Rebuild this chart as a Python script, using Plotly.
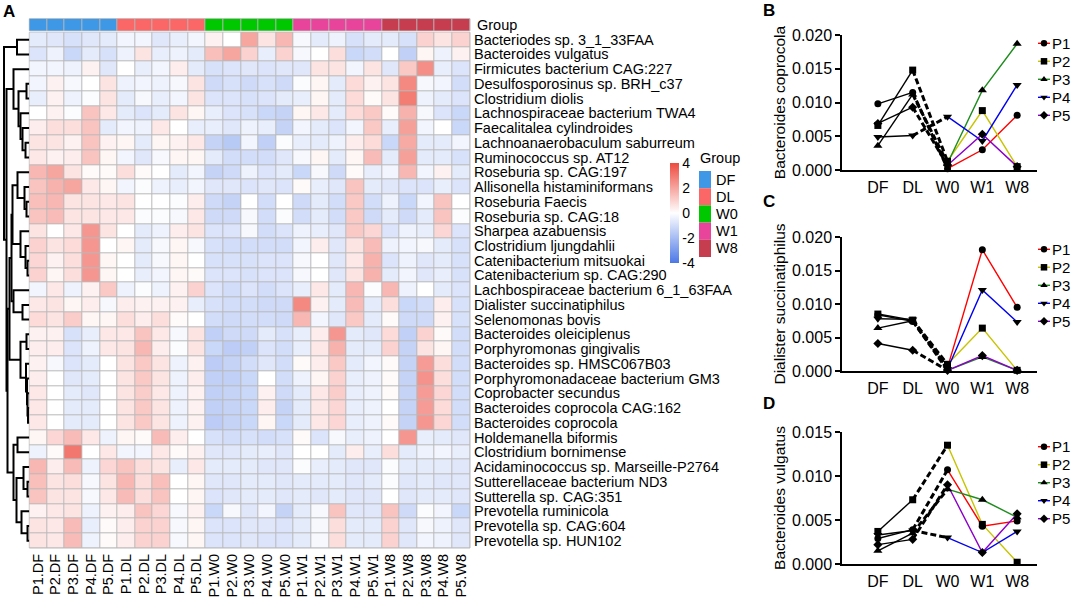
import plotly.graph_objects as go

W, H = 1084, 601
FONT = "Liberation Sans, Arial, sans-serif"

# ---------------- data ----------------
samples = ["P1.DF", "P2.DF", "P3.DF", "P4.DF", "P5.DF",
           "P1.DL", "P2.DL", "P3.DL", "P4.DL", "P5.DL",
           "P1.W0", "P2.W0", "P3.W0", "P4.W0", "P5.W0",
           "P1.W1", "P2.W1", "P3.W1", "P4.W1", "P5.W1",
           "P1.W8", "P2.W8", "P3.W8", "P4.W8", "P5.W8"]
sample_group = [0]*5 + [1]*5 + [2]*5 + [3]*5 + [4]*5
groups = ["DF", "DL", "W0", "W1", "W8"]
group_colors = ["#3F98E6", "#FB6666", "#00C800", "#E9449B", "#C63D50"]

species = ["Bacteriodes sp. 3_1_33FAA", "Bacteroides vulgatus", "Firmicutes bacterium CAG:227",
           "Desulfosporosinus sp. BRH_c37", "Clostridium diolis", "Lachnospiraceae bacterium TWA4",
           "Faecalitalea cylindroides", "Lachnoanaerobaculum saburreum", "Ruminococcus sp. AT12",
           "Roseburia sp. CAG:197", "Allisonella histaminiformans", "Roseburia Faecis",
           "Roseburia sp. CAG:18", "Sharpea azabuensis", "Clostridium ljungdahlii",
           "Catenibacterium mitsuokai", "Catenibacterium sp. CAG:290", "Lachbospiraceae bacterium 6_1_63FAA",
           "Dialister succinatiphilus", "Selenomonas bovis", "Bacteroides oleiciplenus",
           "Porphyromonas gingivalis", "Bacteroides sp. HMSC067B03", "Porphyromonadaceae bacterium GM3",
           "Coprobacter secundus", "Bacteroides coprocola CAG:162", "Bacteroides coprocola",
           "Holdemanella biformis", "Clostridium bornimense", "Acidaminococcus sp. Marseille-P2764",
           "Sutterellaceae bacterium ND3", "Sutterella sp. CAG:351", "Prevotella ruminicola",
           "Prevotella sp. CAG:604", "Prevotella sp. HUN102"]

zscores = [
    [-0.6,-0.7,-0.9,-0.7,-0.6,-0.3,-0.3,-0.7,-0.5,-0.3, 0.3, 0.0, 2.0, 0.6, 1.6,-0.2,-0.6,-0.4,-0.9,-0.6,-0.6,-0.9, 1.0, 0.6, 1.0],
    [-0.8,-0.4,-1.2,-0.6,-0.9,-0.4, 0.6,-0.5,-0.4,-0.6, 1.4, 2.0, 1.0,-0.5, 1.0,-0.2, 0.0, 0.7,-1.2,-1.0, 0.0,-1.4, 0.2,-0.4, 0.3],
    [-0.3,-0.3,-0.4, 0.3,-0.7, 0.0,-0.5,-0.3, 0.4,-0.6,-0.9,-0.8,-0.7,-0.8,-0.7,-0.7, 0.6, 0.6,-0.3, 0.6,-0.7, 1.2, 2.5,-0.5,-0.8],
    [-0.3, 0.3,-0.2, 0.0, 0.6,-0.4,-0.3,-0.4,-0.2, 0.6,-1.1,-0.9,-1.1,-0.9,-1.1,-0.1, 0.2,-0.6, 0.8, 0.3, 0.6, 2.6,-0.2,-0.3,-1.0],
    [-0.5, 0.3,-0.4,-0.1, 0.6,-0.6,-0.2,-0.5,-0.3, 0.6,-0.8,-0.8,-0.9,-0.8,-0.6,-0.5, 0.2,-0.6, 0.8, 0.1, 0.6, 2.9,-0.4,-0.6,-0.8],
    [ 0.0, 0.3,-0.1, 1.3, 0.5,-0.6,-0.8,-0.6, 0.6, 0.2,-0.5,-0.8,-0.9,-1.2,-1.3, 0.2, 0.5,-0.6, 0.8, 1.2, 0.1, 1.7,-0.2,-0.8,-1.2],
    [ 0.4, 0.7, 0.7, 1.3,-0.6,-0.3,-0.4, 0.5, 0.0,-0.5,-0.5,-0.7,-0.4,-0.5,-1.3,-0.3,-0.6,-0.8,-0.3, 1.2,-0.5, 2.1,-0.3, 0.0,-1.2],
    [ 0.6, 0.6, 0.3, 1.3, 0.3, 0.2,-0.6, 0.2, 0.3, 0.5,-1.3,-1.6,-0.3,-1.4,-0.1,-0.5,-0.6,-0.4, 0.4, 0.8,-1.2, 1.9,-0.6,-0.6,-0.3],
    [ 0.5, 0.3, 0.4, 1.3, 0.2,-0.3,-0.7,-0.2, 0.2, 0.2,-0.6,-1.0,-1.0,-1.0,-0.7,-0.2, 0.2,-0.6, 0.2, 1.5,-0.6, 2.1,-0.6,-0.6,-0.9],
    [ 1.6, 2.0, 0.6, 0.1, 0.1, 0.7, 0.1, 0.0,-0.6,-0.3,-1.3,-1.1,-0.4,-0.8,-0.6,-1.2,-0.2,-1.1, 0.1,-0.5,-0.3, 1.6,-0.3, 0.3,-0.6],
    [ 1.3, 1.7, 2.0, 0.5, 0.2,-0.3,-0.1,-0.4,-0.5,-0.3,-0.7,-0.7,-0.8,-0.7,-0.8, 0.1,-0.5,-0.7, 1.3,-0.6,-0.7,-0.8,-0.8,-0.5,-0.8],
    [ 1.4, 1.6, 0.6, 0.6, 0.5, 0.6, 0.0, 0.0,-0.1, 0.4,-1.1,-1.3, 0.0,-1.0, 0.0,-1.1,-0.6,-1.0, 1.2,-1.0,-0.4,-1.2,-0.3, 1.3, 0.0],
    [ 1.3, 1.5, 0.6, 0.6, 0.5, 0.5,-0.1,-0.1,-0.2, 0.5,-1.1,-1.1,-0.2,-1.0,-0.1,-1.0,-0.6,-1.0, 1.2,-1.1,-0.6,-1.1,-0.6, 1.3,-0.1],
    [ 0.6, 0.0, 0.5, 2.3, 0.6, 0.0,-0.6,-0.4, 0.4, 0.6,-0.8,-0.8,-0.2,-1.0,-0.8,-0.4,-0.5,-0.7, 1.2, 0.9,-0.8,-0.4,-0.5, 0.9,-0.8],
    [ 1.0, 0.6, 0.8, 2.3, 0.0, 0.2,-0.6,-0.2, 0.2,-0.2,-0.9,-1.0,-1.0,-1.0,-1.0,-0.3, 0.4,-0.7, 0.6, 1.5,-0.4,-0.3,-0.2,-0.6,-0.9],
    [ 0.9, 0.3, 0.7, 2.3, 0.2, 0.0,-0.6,-0.2, 0.2, 0.0,-0.9,-0.9,-0.9,-0.8,-0.8,-0.2, 0.0,-0.7, 0.5, 1.7,-0.8,-0.4,-0.7,-0.6,-0.9],
    [ 1.0, 0.2, 0.7, 2.3, 0.2, 0.0,-0.5,-0.3, 0.2, 0.1,-0.8,-0.8,-0.9,-0.8,-0.8,-0.2, 0.0,-0.7, 0.6, 1.7,-0.6,-0.3,-0.7,-0.5,-0.9],
    [-0.3, 0.5,-0.4, 0.3, 1.2,-0.4,-0.1,-0.4, 0.3, 1.0,-0.8,-1.0,-0.8,-1.0,-0.8,-0.5, 0.5,-0.6, 1.6,-0.1, 1.6,-0.4, 0.0,-0.6,-0.8],
    [ 0.5, 0.6, 0.2, 0.4,-0.2, 0.4, 0.3, 0.3, 0.3,-0.5,-0.9,-1.0,-1.0,-1.1,-1.1, 2.6, 0.3,-0.6, 1.5,-0.6, 0.7,-1.2,-1.0, 0.4,-0.9],
    [ 0.8, 0.6, 1.1, 0.2, 0.2, 0.7, 0.4, 0.7, 0.1, 0.0,-1.0,-1.1,-1.0,-1.0,-1.1, 1.6,-0.3,-0.7, 1.2,-0.6, 0.1,-1.1,-1.1, 0.3,-0.9],
    [ 0.3, 0.3,-0.9,-0.5, 0.5, 0.5, 1.3, 0.5,-0.2, 0.6,-1.4,-1.1,-1.1,-0.6,-0.9,-0.5, 0.4, 2.3,-0.6,-0.7, 0.8,-1.4, 1.0, 0.1,-1.0],
    [ 0.4, 0.4,-0.8,-0.4, 0.5, 0.6, 1.6, 0.4,-0.1, 0.6,-1.2,-1.5,-1.4,-0.8,-1.0,-0.5, 0.5, 1.7,-0.6,-0.6, 1.0,-1.3, 0.6, 0.2,-1.0],
    [ 0.3,-0.2,-0.8,-0.6, 0.0, 0.6, 1.2, 0.6,-0.4, 0.3,-1.5,-1.3,-1.0,-0.7,-1.0, 0.1, 0.4, 1.2,-0.6,-0.3, 0.1,-1.3, 2.2, 0.7,-1.0],
    [ 0.4, 0.0,-0.7,-0.6, 0.0, 0.6, 1.2, 0.6,-0.4, 0.4,-1.4,-1.4,-1.2, 0.0,-1.0,-0.4, 0.2, 1.0,-0.5,-0.4, 0.1,-1.3, 2.4, 0.7,-1.0],
    [ 0.5, 0.0,-0.6,-0.7, 0.0, 0.6, 1.1, 0.5,-0.4, 0.3,-1.4,-1.3,-1.2, 0.3,-1.1,-0.6, 0.5, 1.1,-0.5,-0.4, 0.1,-1.3, 2.2, 0.9,-1.0],
    [ 0.5, 0.0,-0.6,-0.6, 0.0, 0.6, 1.2, 0.6,-0.4, 0.3,-1.4,-1.3,-1.2, 0.4,-1.3,-0.6, 0.5, 0.9,-0.5,-0.4, 0.0,-1.3, 2.2, 0.8,-1.0],
    [ 0.5, 0.0,-0.6,-0.6, 0.0, 0.6, 1.2, 0.6,-0.4, 0.3,-1.5,-1.3,-1.2, 0.2,-1.2,-0.6, 0.5, 0.9,-0.5,-0.4, 0.1,-1.3, 2.3, 0.9,-1.0],
    [ 0.2, 0.9, 1.5, 0.5,-0.4, 0.2, 0.1, 1.5, 0.4, 0.0,-0.9,-1.0,-0.9,-1.0,-0.9, 0.1,-0.8,-0.2,-0.5,-0.4, 0.0, 2.3,-0.5,-0.6,-0.7],
    [-0.4, 0.1, 3.0, 0.0, 0.5,-0.3,-0.3, 0.5, 0.1, 0.3,-0.7,-0.7,-0.6,-0.5,-0.7, 0.0, 0.0,-0.6, 0.4,-0.5, 0.7,-0.6,-0.4,-0.3,-0.5],
    [ 1.6, 0.4, 1.5,-0.4, 0.9, 1.3, 0.7, 0.6,-0.5, 0.5,-0.6,-0.6,-0.6,-0.7,-0.7,-0.1,-0.5,-0.6,-0.7,-0.7,-0.1,-0.6,-0.6,-0.6,-0.7],
    [ 1.4, 0.6, 0.7,-0.2, 0.6, 1.6, 0.7, 1.4, 0.0, 0.2,-0.7,-0.7,-0.6,-0.6,-0.7,-0.6,-0.6,-0.6,-0.7,-0.6,-0.1,-0.7,-0.6,-0.7,-0.7],
    [ 1.3, 0.6, 0.6,-0.2, 0.5, 1.5, 0.7, 1.3, 0.0, 0.2,-0.8,-0.7,-0.6,-0.6,-0.7,-0.6,-0.7,-0.6,-0.7,-0.7, 0.0,-0.7,-0.6,-0.6,-0.7],
    [ 0.3, 0.5, 0.6,-0.4, 0.3, 0.4, 1.3, 0.9,-0.2, 0.3,-1.2,-0.2,-0.7,-0.3,-1.3,-0.6,-0.2, 1.3,-0.7,-0.7, 1.3,-1.1,-0.1,-0.3,-1.2],
    [ 0.6, 0.5, 1.5,-0.5, 0.1, 0.4, 1.0, 1.0,-0.2, 0.2,-0.8,-0.8,-0.7,-0.7,-0.8,-0.6,-0.2, 0.7,-0.6,-0.6, 1.0,-0.7,-0.2,-0.4,-0.7],
    [ 0.6, 0.5, 1.5,-0.4, 0.1, 0.4, 1.0, 1.0,-0.2, 0.2,-0.8,-0.8,-0.7,-0.8,-0.8,-0.6,-0.2, 0.7,-0.6,-0.6, 1.0,-0.7,-0.3,-0.4,-0.7],
]

# row clustering (left id, right id, merge height); ids >= 35 are earlier merges
row_merges = [
    (0, 1, 11.5), (3, 4, 2), (7, 8, 3), (6, 37, 6), (5, 38, 8), (36, 39, 10), (2, 40, 15),
    (11, 12, 2), (10, 42, 4), (9, 43, 11),
    (15, 16, 1), (14, 45, 3), (13, 46, 8),
    (18, 19, 6), (17, 48, 15),
    (20, 21, 2), (25, 26, 0.5), (24, 51, 1), (23, 52, 1.5), (22, 53, 2.5), (50, 54, 8),
    (27, 28, 11), (30, 31, 1), (29, 57, 5), (33, 34, 1), (32, 59, 7), (58, 60, 12), (56, 61, 15),
    (44, 47, 16), (63, 49, 17), (64, 55, 19), (65, 62, 21), (41, 66, 22), (35, 67, 24.5),
]

timepoints = ["DF", "DL", "W0", "W1", "W8"]
patients = ["P1", "P2", "P3", "P4", "P5"]
patient_colors = ["#FF0000", "#C8C400", "#1E8C1E", "#0000F0", "#8B00C8"]
patient_symbols = ["circle", "square", "triangle-up", "triangle-down", "diamond"]

b_coprocola = [
    [0.0098, 0.0115, 0.0002, 0.0030, 0.0081],
    [0.0066, 0.0148, 0.0013, 0.0088, 0.0005],
    [0.0036, 0.0112, 0.0010, 0.0118, 0.0187],
    [0.0049, 0.0051, 0.0079, 0.0043, 0.0126],
    [0.0069, 0.0093, 0.0007, 0.0053, 0.0005],
]
d_succinatiphilus = [
    [0.0084, 0.0074, 0.0005, 0.0181, 0.0095],
    [0.0085, 0.0076, 0.0010, 0.0064, 0.0001],
    [0.0064, 0.0075, 0.0001, 0.0021, 0.0001],
    [0.0078, 0.0077, 0.0003, 0.0121, 0.0073],
    [0.0041, 0.0031, 0.0001, 0.0023, 0.0001],
]
b_vulgatus = [
    [0.0029, 0.0039, 0.0107, 0.0043, 0.0049],
    [0.0037, 0.0073, 0.0135, 0.0045, 0.0002],
    [0.0015, 0.0035, 0.0085, 0.0073, 0.0053],
    [0.0033, 0.0038, 0.0030, 0.0013, 0.0037],
    [0.0022, 0.0028, 0.0090, 0.0013, 0.0057],
]

# ---------------- helpers ----------------
def fx(px):
    return px / W

def fy(py):
    return 1 - py / H

fig = go.Figure()

# heatmap geometry (pixels)
HX0, HX1 = 29.3, 470.0
HY0, HY1 = 32.3, 548.0

fig.add_trace(go.Heatmap(
    z=zscores, x=samples, y=species, zmin=-4, zmax=4,
    colorscale=[[0, "#4C78E6"], [0.5, "#FFFFFF"], [1, "#EE4A3E"]],
    xgap=1, ygap=1, xaxis="x", yaxis="y", hoverinfo="skip",
    colorbar=dict(x=fx(670), xanchor="left", y=fy(163), yanchor="top",
                  len=100, lenmode="pixels", thickness=9, outlinewidth=0,
                  tickvals=[4, 2, 0, -2, -4], ticktext=["4", "2", "0", "-2", "-4"],
                  ticks="", tickfont=dict(size=14, family=FONT, color="black"),
                  xpad=0, ypad=0),
))

# group annotation bar
fig.add_trace(go.Heatmap(
    z=[sample_group], x=samples, y=["Group"], zmin=-0.5, zmax=4.5,
    colorscale=[[0, group_colors[0]], [0.2, group_colors[0]], [0.2, group_colors[1]], [0.4, group_colors[1]],
                [0.4, group_colors[2]], [0.6, group_colors[2]], [0.6, group_colors[3]], [0.8, group_colors[3]],
                [0.8, group_colors[4]], [1, group_colors[4]]],
    showscale=False, xgap=1, ygap=0, xaxis="x2", yaxis="y2", hoverinfo="skip",
))

# dendrogram from merge list
n = len(species)
LEAF_X = HX0
pos = {i: (LEAF_X, float(i)) for i in range(n)}
dx, dy = [], []
for k, (a, b, h) in enumerate(row_merges):
    xa, ya = pos[a]
    xb, yb = pos[b]
    xm = 28.5 - h
    dx += [xa, xm, xm, xb, None]
    dy += [ya, ya, yb, yb, None]
    pos[n + k] = (xm, (ya + yb) / 2)
fig.add_trace(go.Scatter(x=dx, y=dy, mode="lines", line=dict(color="black", width=2),
                         xaxis="x3", yaxis="y3", showlegend=False, hoverinfo="skip", cliponaxis=False))

# line panels
panels = [("4", b_coprocola, "Bacteroides coprocola", 0.020, 35, 170),
          ("5", d_succinatiphilus, "Dialister succinatiphilus", 0.020, 237, 371),
          ("6", b_vulgatus, "Bacteroides vulgatus", 0.015, 432, 564)]
for ax, data, title, ymax, ytop, ybot in panels:
    xa, ya = "x" + ax, "y" + ax
    for i, vals in enumerate(data):
        fig.add_trace(go.Scatter(x=timepoints[0:2], y=vals[0:2], mode="lines",
                                 line=dict(color="black", width=1.4), xaxis=xa, yaxis=ya,
                                 showlegend=False, hoverinfo="skip", cliponaxis=False))
        fig.add_trace(go.Scatter(x=timepoints[1:3], y=vals[1:3], mode="lines",
                                 line=dict(color="black", width=3, dash="6px,3px"), xaxis=xa, yaxis=ya,
                                 showlegend=False, hoverinfo="skip", cliponaxis=False))
        fig.add_trace(go.Scatter(x=timepoints[2:], y=vals[2:], mode="lines",
                                 line=dict(color=patient_colors[i], width=1.4), xaxis=xa, yaxis=ya,
                                 showlegend=False, hoverinfo="skip", cliponaxis=False))
    for i, vals in enumerate(data):
        fig.add_trace(go.Scatter(x=timepoints, y=vals, mode="markers",
                                 marker=dict(color="black", size=8 if "triangle" in patient_symbols[i] else 7,
                                             symbol=patient_symbols[i]),
                                 xaxis=xa, yaxis=ya, showlegend=False, hoverinfo="skip", cliponaxis=False))

# manual legends on a pixel overlay axis
LEG_TOPS = [43.3, 249.3, 446.7]
LEG_STEP = 18.0
for top in LEG_TOPS:
    for i, p in enumerate(patients):
        yy = top + i * LEG_STEP
        fig.add_trace(go.Scatter(x=[1038, 1050], y=[yy, yy], mode="lines",
                                 line=dict(color=patient_colors[i], width=1.4),
                                 xaxis="x7", yaxis="y7", showlegend=False, hoverinfo="skip", cliponaxis=False))
        fig.add_trace(go.Scatter(x=[1044], y=[yy], mode="markers",
                                 marker=dict(color="black", size=6.5, symbol=patient_symbols[i]),
                                 xaxis="x7", yaxis="y7", showlegend=False, hoverinfo="skip", cliponaxis=False))

annotations = []
for top in LEG_TOPS:
    for i, p in enumerate(patients):
        annotations.append(dict(x=fx(1050), y=fy(top + i * LEG_STEP), xref="paper", yref="paper",
                                text=p, showarrow=False, xanchor="left", yanchor="middle",
                                font=dict(size=15, family=FONT, color="black")))

# panel letters
for letter, px, py in [("A", 9, 12), ("B", 769, 11), ("C", 769, 202), ("D", 769, 403)]:
    annotations.append(dict(x=fx(px), y=fy(py), xref="paper", yref="paper", text="<b>%s</b>" % letter,
                            showarrow=False, xanchor="center", yanchor="middle",
                            font=dict(size=17, family=FONT, color="black")))

# "Group" label next to annotation bar
annotations.append(dict(x=fx(475), y=fy(24.7), xref="paper", yref="paper", text="Group",
                        showarrow=False, xanchor="left", yanchor="middle",
                        font=dict(size=14.5, family=FONT, color="black")))

# group legend
shapes = []
GL_X, GL_TOP, GL_H = 699, 171, 17.2
annotations.append(dict(x=fx(GL_X - 1), y=fy(158), xref="paper", yref="paper", text="Group",
                        showarrow=False, xanchor="left", yanchor="middle",
                        font=dict(size=14.5, family=FONT, color="black")))
for i, g in enumerate(groups):
    shapes.append(dict(type="rect", xref="paper", yref="paper",
                       x0=fx(GL_X), x1=fx(GL_X + 12), y0=fy(GL_TOP + i * GL_H), y1=fy(GL_TOP + (i + 1) * GL_H),
                       fillcolor=group_colors[i], line=dict(width=0)))
    annotations.append(dict(x=fx(GL_X + 15), y=fy(GL_TOP + (i + 0.5) * GL_H), xref="paper", yref="paper",
                            text=g, showarrow=False, xanchor="left", yanchor="middle",
                            font=dict(size=14.5, family=FONT, color="black")))

# grey grid background behind heatmap cells
shapes.append(dict(type="rect", xref="x domain", yref="y domain", x0=0, x1=1, y0=0, y1=1,
                   fillcolor="#B9B9B9", line=dict(color="#B9B9B9", width=1), layer="below"))
shapes.append(dict(type="rect", xref="x2 domain", yref="y2 domain", x0=0, x1=1, y0=0, y1=1,
                   fillcolor="#B9B9B9", line=dict(color="#B9B9B9", width=1), layer="below"))

axis_font = dict(size=16, family=FONT, color="black")
layout = dict(
    width=W, height=H, margin=dict(l=0, r=0, t=0, b=0, autoexpand=False),
    paper_bgcolor="white", plot_bgcolor="rgba(0,0,0,0)",
    font=dict(family=FONT, color="black"),
    showlegend=False,
    annotations=annotations, shapes=shapes,
    xaxis=dict(domain=[fx(HX0), fx(HX1)], anchor="y", tickangle=-90, ticks="", showgrid=False,
               zeroline=False, showline=False, tickfont=dict(size=14.5, family=FONT, color="black"),
               tickmode="array", tickvals=samples, ticktext=samples, ticklabelstandoff=2),
    yaxis=dict(domain=[fy(HY1), fy(HY0)], anchor="x", autorange="reversed", side="right", ticks="",
               showgrid=False, zeroline=False, showline=False,
               tickmode="array", tickvals=species, ticktext=species,
               tickfont=dict(size=14.5, family=FONT, color="black"), ticklabelstandoff=3),
    xaxis2=dict(domain=[fx(HX0), fx(HX1)], anchor="y2", showticklabels=False, ticks="", showgrid=False,
                zeroline=False, matches="x"),
    yaxis2=dict(domain=[fy(30.7), fy(18.7)], anchor="x2", showticklabels=False, ticks="", showgrid=False,
                zeroline=False),
    xaxis3=dict(domain=[0, fx(HX0)], anchor="y3", range=[0, HX0], visible=False),
    yaxis3=dict(domain=[fy(HY1), fy(HY0)], anchor="x3", range=[n - 0.5, -0.5], visible=False),
    xaxis7=dict(domain=[0, 1], anchor="y7", range=[0, W], visible=False),
    yaxis7=dict(domain=[0, 1], anchor="x7", range=[H, 0], visible=False),
)
for ax, data, title, ymax, ytop, ybot in panels:
    step = 0.005
    layout["xaxis" + ax] = dict(domain=[fx(842), fx(1037)], anchor="y" + ax, type="category",
                                categoryorder="array", categoryarray=timepoints,
                                range=[-1.03, 4.57], showline=True, linecolor="black", linewidth=1.5,
                                ticks="", showgrid=False, zeroline=False, tickfont=axis_font,
                                ticklabelstandoff=2)
    layout["yaxis" + ax] = dict(domain=[fy(ybot), fy(ytop)], anchor="x" + ax, range=[0, ymax],
                                tickvals=[k * step for k in range(int(round(ymax / step)) + 1)],
                                tickformat=".3f", showline=True, linecolor="black", linewidth=1.5,
                                ticks="outside", ticklen=5, tickwidth=1.5, tickcolor="black",
                                showgrid=False, zeroline=False, tickfont=axis_font,
                                title=dict(text=title, font=dict(size=15.5, family=FONT, color="black"),
                                           standoff=3))
fig.update_layout(**layout)

fig.write_html("out.html", config={"displayModeBar": False},
               post_script="document.body.style.margin='0px';document.body.style.overflow='hidden';")
